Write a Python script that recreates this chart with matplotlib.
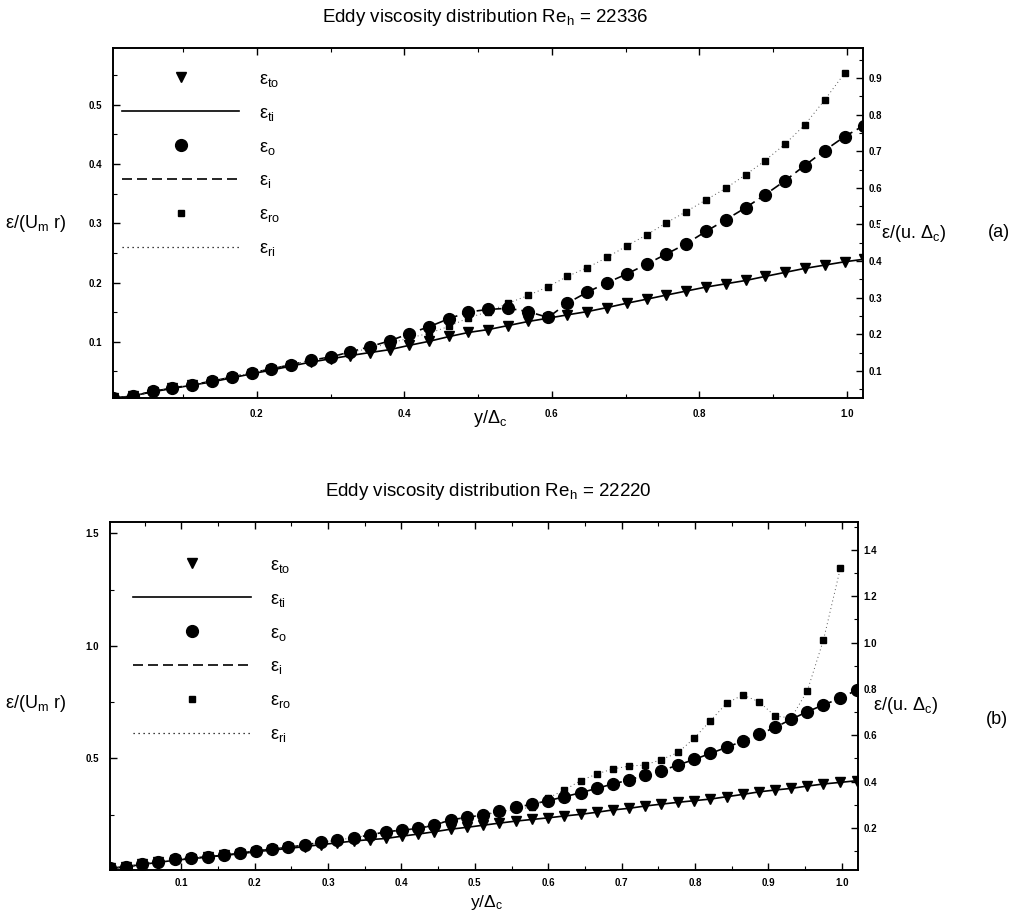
import matplotlib
matplotlib.use("Agg")
import matplotlib.pyplot as plt
import numpy as np
from matplotlib.lines import Line2D
from matplotlib.ticker import MultipleLocator, FormatStrFormatter

plt.rcParams['font.family'] = ['Liberation Sans', 'DejaVu Sans']
plt.rcParams['mathtext.fontset'] = 'custom'
plt.rcParams['mathtext.rm'] = 'Liberation Sans'
plt.rcParams['mathtext.it'] = 'Liberation Sans'

# ---------------- data: panel (a), Re_h = 22336 ----------------
x_a = [0.005, 0.032, 0.059, 0.085, 0.112, 0.139, 0.166, 0.193, 0.219, 0.246,
       0.273, 0.300, 0.327, 0.353, 0.380, 0.407, 0.434, 0.461, 0.487, 0.514,
       0.541, 0.568, 0.595, 0.621, 0.648, 0.675, 0.702, 0.729, 0.755, 0.782,
       0.809, 0.836, 0.863, 0.889, 0.916, 0.943, 0.970, 0.997, 1.023]
eps_to_a = [0.025, 0.032, 0.043, 0.052, 0.061, 0.070, 0.081, 0.092, 0.102, 0.113,
            0.124, 0.133, 0.142, 0.150, 0.158, 0.170, 0.181, 0.194, 0.205, 0.213,
            0.224, 0.235, 0.244, 0.253, 0.262, 0.273, 0.285, 0.296, 0.307, 0.318,
            0.329, 0.338, 0.347, 0.358, 0.369, 0.380, 0.389, 0.398, 0.405]
eps_o_a = [0.025, 0.032, 0.044, 0.053, 0.062, 0.072, 0.083, 0.095, 0.105, 0.117,
           0.129, 0.138, 0.152, 0.166, 0.182, 0.202, 0.221, 0.243, 0.261, 0.268,
           0.271, 0.262, 0.246, 0.285, 0.315, 0.341, 0.365, 0.392, 0.419, 0.447,
           0.481, 0.513, 0.546, 0.581, 0.619, 0.661, 0.702, 0.740, 0.770]
eps_ro_a = [0.025, 0.032, 0.044, 0.053, 0.062, 0.072, 0.083, 0.095, 0.105, 0.117,
            0.129, 0.138, 0.150, 0.162, 0.175, 0.190, 0.203, 0.222, 0.245, 0.262,
            0.285, 0.306, 0.330, 0.358, 0.382, 0.410, 0.442, 0.472, 0.504, 0.535,
            0.567, 0.599, 0.636, 0.674, 0.719, 0.772, 0.840, 0.913]

# ---------------- data: panel (b), Re_h = 22220 ----------------
x_b = [0.003, 0.025, 0.047, 0.069, 0.091, 0.114, 0.136, 0.158, 0.180, 0.202,
       0.224, 0.246, 0.268, 0.290, 0.312, 0.335, 0.357, 0.379, 0.401, 0.423,
       0.445, 0.467, 0.489, 0.511, 0.533, 0.556, 0.578, 0.600, 0.622, 0.644,
       0.666, 0.688, 0.710, 0.732, 0.754, 0.777, 0.799, 0.821, 0.843, 0.865,
       0.887, 0.909, 0.931, 0.953, 0.975, 0.998, 1.020]
eps_to_b = [0.026, 0.033, 0.043, 0.052, 0.061, 0.068, 0.075, 0.082, 0.089, 0.098,
            0.105, 0.112, 0.120, 0.128, 0.136, 0.144, 0.150, 0.155, 0.165, 0.174,
            0.184, 0.195, 0.203, 0.212, 0.221, 0.230, 0.237, 0.244, 0.252, 0.259,
            0.268, 0.278, 0.285, 0.295, 0.303, 0.311, 0.318, 0.325, 0.335, 0.345,
            0.356, 0.364, 0.371, 0.381, 0.390, 0.397, 0.404]
eps_o_b = [0.026, 0.033, 0.044, 0.054, 0.065, 0.070, 0.076, 0.083, 0.091, 0.102,
           0.109, 0.117, 0.127, 0.138, 0.148, 0.158, 0.170, 0.184, 0.191, 0.198,
           0.213, 0.235, 0.246, 0.256, 0.272, 0.289, 0.303, 0.318, 0.335, 0.352,
           0.371, 0.390, 0.407, 0.429, 0.447, 0.472, 0.496, 0.522, 0.548, 0.575,
           0.604, 0.634, 0.669, 0.702, 0.731, 0.760, 0.795]
eps_ro_b = [0.026, 0.033, 0.044, 0.054, 0.065, 0.070, 0.076, 0.083, 0.091, 0.102,
            0.109, 0.117, 0.127, 0.138, 0.148, 0.158, 0.170, 0.184, 0.191, 0.198,
            0.213, 0.235, 0.246, 0.256, 0.270, 0.280, 0.290, 0.330, 0.364, 0.404,
            0.433, 0.455, 0.467, 0.472, 0.495, 0.526, 0.588, 0.663, 0.738, 0.774,
            0.745, 0.683, 0.675, 0.792, 1.012, 1.321]

labels = ['ε$_{to}$', 'ε$_{ti}$', 'ε$_{o}$', 'ε$_{i}$', 'ε$_{ro}$', 'ε$_{ri}$']

W, H = 1035, 914
fig = plt.figure(figsize=(W / 100, H / 100), dpi=100)


def fx(px):
    return px / W


def fy(py):
    return 1 - py / H


def axes_rect(l, r, t, b):
    return [fx(l), fy(b), fx(r) - fx(l), (b - t) / H]


DOTTED = (0, (1, 3))


def make_panel(rect, x, to, o, ro, xlim, ylim_l, ylim_r,
               xmaj, xmin_, lmaj, lmin, rmaj, rmin, leg_anchor, xpad):
    ax = fig.add_axes(rect)
    ax2 = ax.twinx()
    for a in (ax, ax2):
        for s in a.spines.values():
            s.set_linewidth(1.2)
    ax.set_xlim(*xlim)
    ax.set_ylim(*ylim_l)
    ax2.set_ylim(*ylim_r)
    ax.xaxis.set_major_locator(MultipleLocator(xmaj))
    ax.xaxis.set_minor_locator(MultipleLocator(xmin_))
    ax.yaxis.set_major_locator(MultipleLocator(lmaj))
    ax.yaxis.set_minor_locator(MultipleLocator(lmin))
    ax2.yaxis.set_major_locator(MultipleLocator(rmaj))
    ax2.yaxis.set_minor_locator(MultipleLocator(rmin))
    ax.xaxis.set_major_formatter(FormatStrFormatter('%.1f'))
    ax.yaxis.set_major_formatter(FormatStrFormatter('%.1f'))
    ax2.yaxis.set_major_formatter(FormatStrFormatter('%.1f'))
    ax.tick_params(axis='x', which='both', direction='in', top=True, bottom=True)
    ax.tick_params(axis='y', which='both', direction='in', left=True, right=False)
    ax2.tick_params(axis='y', which='both', direction='in', right=True, left=False)
    ax.tick_params(which='major', length=5, width=1.0)
    ax.tick_params(which='minor', length=3, width=0.8)
    ax2.tick_params(which='major', length=5, width=1.0)
    ax2.tick_params(which='minor', length=3, width=0.8)
    ax.tick_params(axis='x', pad=xpad, labelsize=7)
    ax.tick_params(axis='y', pad=8, labelsize=7)
    ax2.tick_params(axis='y', pad=4, labelsize=7)
    for lab in ax.get_xticklabels() + ax.get_yticklabels() + ax2.get_yticklabels():
        lab.set_fontweight('bold')

    n = len(ro)
    ax2.plot(x, to, linestyle='-', color='black', lw=1.2)
    ax2.plot(x, o, linestyle=(0, (6, 3)), color='black', lw=1.2)
    ax2.plot(x[:n], ro, linestyle=DOTTED, color='#555555', lw=0.7)
    ax2.plot(x, to, linestyle='none', marker='v', ms=6.5, color='black')
    ax2.plot(x, o, linestyle='none', marker='o', ms=8.5, color='black')
    ax2.plot(x[:n], ro, linestyle='none', marker='s', ms=4.5, color='black')

    handles = [
        Line2D([], [], linestyle='none', marker='v', ms=6.5, color='black'),
        Line2D([], [], linestyle='-', lw=1.2, color='black'),
        Line2D([], [], linestyle='none', marker='o', ms=8.5, color='black'),
        Line2D([], [], linestyle=(0, (6, 3)), lw=1.2, color='black'),
        Line2D([], [], linestyle='none', marker='s', ms=4.5, color='black'),
        Line2D([], [], linestyle=DOTTED, lw=0.9, color='black'),
    ]
    ax2.legend(handles, labels, loc='upper left', bbox_to_anchor=leg_anchor,
               frameon=False, fontsize=13, handlelength=6.5, handletextpad=1.1,
               labelspacing=0.88, borderpad=0.0, borderaxespad=0.0)
    return ax, ax2


# panel (a)
make_panel(axes_rect(113, 863, 48, 398), x_a, eps_to_a, eps_o_a, eps_ro_a,
           (0.005, 1.022), (0.005, 0.596), (0.026, 0.982),
           0.2, 0.1, 0.1, 0.05, 0.1, 0.05, (0.012, 0.935), 8)
# panel (b)
make_panel(axes_rect(110, 858, 522, 870), x_b, eps_to_b, eps_o_b, eps_ro_b,
           (0.003, 1.022), (0.004, 1.55), (0.019, 1.52),
           0.1, 0.05, 0.5, 0.25, 0.2, 0.1, (0.031, 0.9), 6)

TITLE = 13.5
fig.text(fx(485), fy(18), 'Eddy viscosity distribution Re$_h$ = 22336',
         ha='center', va='center', fontsize=TITLE)
fig.text(fx(488), fy(491), 'Eddy viscosity distribution Re$_h$ = 22220',
         ha='center', va='center', fontsize=TITLE)

fig.text(fx(490), fy(419), 'y/Δ$_c$', ha='center', va='center', fontsize=13)
fig.text(fx(487), fy(903), 'y/Δ$_c$', ha='center', va='center', fontsize=12.5)

fig.text(fx(5), fy(223), 'ε/(U$_m$ r)', ha='left', va='center', fontsize=13)
fig.text(fx(5), fy(703), 'ε/(U$_m$ r)', ha='left', va='center', fontsize=13)

fig.text(fx(881), fy(234), 'ε/(u. Δ$_c$)', ha='left', va='center', fontsize=13,
         bbox=dict(facecolor='white', edgecolor='none', pad=0.5))
fig.text(fx(873), fy(705), 'ε/(u. Δ$_c$)', ha='left', va='center', fontsize=13)

fig.text(fx(988), fy(233), '(a)', ha='left', va='center', fontsize=13)
fig.text(fx(986), fy(720), '(b)', ha='left', va='center', fontsize=13)

fig.savefig('out.png', dpi=100)
